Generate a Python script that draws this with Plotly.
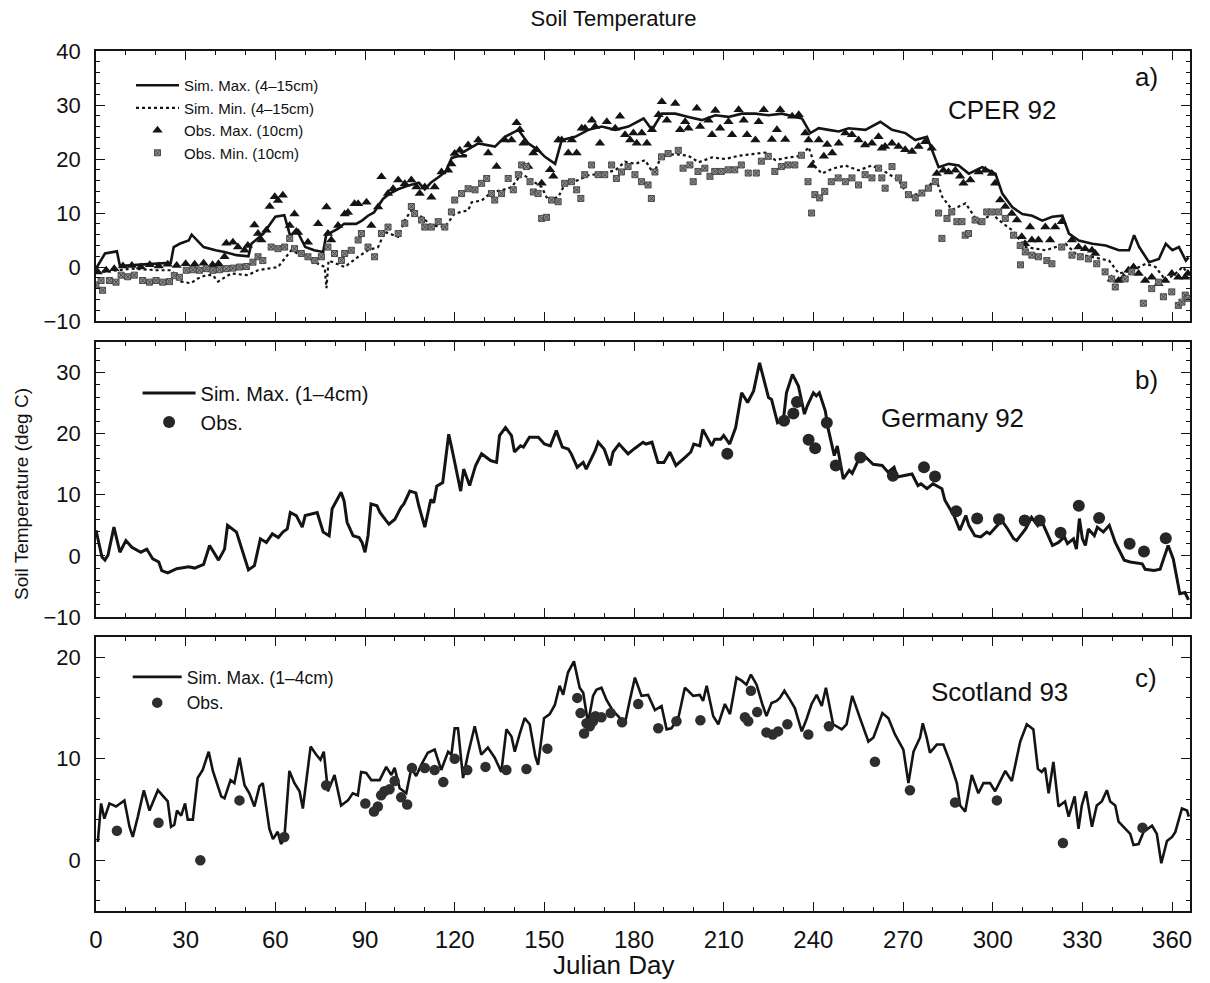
import plotly.graph_objects as go
from plotly.subplots import make_subplots

# ---------------- a) CPER 92 ----------------
a_simmax_day = [0, 3, 7, 8, 16, 25, 26, 28, 31, 32, 36, 40, 43, 47, 51, 52, 56, 60, 63, 65, 67, 70, 73, 76, 77,
                79, 81, 83, 87, 89, 91, 93, 96, 98, 101, 104, 108, 110, 112, 115, 117, 119, 121, 124,
                122.3, 127.9, 133.5, 136.8, 141.3, 144.6, 148, 150.2, 153.6, 155.8, 160.3, 164.7, 169.2, 173.7,
                178.1, 183.2, 186, 189.3, 193.8, 198.2, 202.7, 207.2, 211.6, 216.1, 220.6, 225, 229.5, 234,
                236.2, 239, 241.8, 245.1, 248.5, 251.8, 257.4, 262.4, 266.3, 270.8, 274.1, 278, 281.9, 285.3,
                288.6, 292, 296.5, 300.9, 303.2, 306.5, 309.9, 313.2, 316.6, 319.9, 323.3, 325.5, 328.8, 333.3,
                337.8, 342.2, 345.6, 347.3, 349, 352.3, 355.6, 357.9, 360.1, 362.3, 364.6, 365.5]
a_simmax_val = [-0.3, 2.5, 2.9, 0.2, 0.5, 0.8, 3.7, 4.3, 4.9, 6.0, 3.7, 3.1, 2.8, 2.2, 2.0, 4.3, 6.2, 9.3, 9.6, 5.7,
                7.0, 3.7, 3.1, 2.8, 5.9, 6.5, 7.1, 8.0, 8.0, 8.6, 9.5, 10.1, 12.6, 13.5, 14.4, 15.0, 15.6, 14.4,
                15.6, 16.8, 17.7, 20.2, 20.5, 20.5,
                21.1, 22.9, 22.3, 24.1, 25.4, 22.9, 21.6, 20.4, 19.1, 23.5, 24.1, 25.4, 26.0, 25.4,
                26.0, 27.5, 25.4, 28.4, 28.4, 27.8, 27.2, 28.1, 27.8, 28.4, 28.4, 28.1, 28.4, 27.8,
                27.5, 24.8, 25.7, 25.4, 25.1, 25.7, 25.4, 26.9, 25.4, 24.8, 23.5, 24.1, 18.5, 19.1,
                18.8, 17.3, 18.5, 17.3, 13.6, 11.1, 9.8, 9.5, 8.6, 9.3, 9.5, 6.2, 4.9, 4.3,
                4.0, 3.1, 3.1, 5.9, 3.7, 0.9, 1.5, 4.3, 3.1, 3.7, 1.2, 1.8]

a_simmin_day = [0, 2.8, 7.3, 11.7, 20.7, 25.1, 26.2, 28.5, 31.8, 34.1, 36.9, 39.1, 40.8, 45.2, 50.8, 54.2, 57.5,
                60.9, 65.3, 69.8, 76.5, 77.1, 77.8, 83.2, 87.7, 91, 94.4, 96.6, 101.1, 103.3, 105.5, 108.9,
                112.2, 116.7, 120, 124.5,
                125.7, 129, 132.4, 135.7, 139.1, 142.4, 145.8, 149.1, 151.3, 154.7, 156.9, 161.4, 164.7, 169.2,
                173.7, 177, 180.4, 183.7, 186.5, 189.3, 193.8, 198.2, 201.6, 206.1, 210.5, 215, 219.5, 223.9,
                227.3, 231.7, 236.2, 238.4, 240.7, 242.9, 246.3, 250.7, 255.1, 259.6, 264.1, 268.5, 271.9,
                275.2, 278.6, 280.8, 283.1, 286.4, 290.9, 295.3, 299.8, 302, 306.5, 311, 317.7, 324.4, 327.7,
                333.3, 338.9, 342.2, 346.7, 351.2, 354.5, 357.9, 361.2, 363.5, 365.5]
a_simmin_val = [-0.6, -0.9, -0.6, -0.3, -0.6, -0.6, -1.2, -2.7, -3.0, -2.1, -1.5, -1.5, -2.7, -1.2, -1.5, -0.6,
                -0.3, 0.0, 3.1, 1.9, 0.0, -3.9, 1.2, 0.0, 1.9, 3.1, 3.7, 6.5, 5.6, 8.7, 10.5, 9.3,
                7.7, 7.4, 9.9, 10.5,
                12.0, 12.3, 13.9, 14.2, 14.8, 17.3, 16.1, 14.8, 12.3, 13.0, 15.4, 16.1, 17.0, 17.3,
                17.9, 19.5, 19.1, 19.8, 17.3, 20.6, 20.9, 20.6, 19.4, 20.3, 20.0, 20.6, 20.9, 21.2,
                19.8, 20.3, 20.6, 22.2, 18.5, 17.3, 18.2, 18.8, 17.9, 18.8, 17.6, 16.1, 13.0,
                13.6, 14.8, 16.7, 13.0, 10.6, 11.8, 8.1, 9.9, 8.7, 6.8, 3.7, 3.1, 4.3, 2.5,
                1.9, 1.2, -1.2, -0.6, 0.6, 0.0, -2.5, -1.2, 0.0, -1.2]

a_obsmax_day = [0.6, 3.4, 6.1, 9, 12, 15, 18, 21, 24, 27, 30, 33, 36, 39, 41,
                43, 43.6, 45.8, 47.5, 49.7, 50.8, 53, 54.2, 55.3, 57, 58.1, 59.8, 60.9, 62.5, 64.8, 66.4,
                67.6, 70.9, 74.3, 77.1, 77.6, 78.7, 81, 83.2, 84.3, 86.5, 87.7, 90.5, 92.1, 94.4, 95.5, 97.7,
                99.4, 101.1, 103.3, 105.5, 107.2, 108.3, 110, 112.2, 113.3, 115.6, 117.8, 118.9, 120, 121.7,
                124.5, 127.9, 131.2, 134, 136.8, 139, 140.7, 141.8, 143, 144.6, 146.3, 147.4, 149.1, 151.9,
                153, 154.7, 155.8, 158, 159.2, 160.8, 162.5, 163.6, 165.9, 167, 168.6, 170.9, 173.7, 175.3,
                177, 178.7, 179.8, 180.9, 182.6, 184.3, 186, 188.2, 189.3, 191, 193.8, 195.4, 197.1, 198.2,
                201, 202.1, 204.9, 206.1, 207.2, 208.8, 211.6, 212.8, 215, 216.7, 217.8, 220.6, 221.7, 223.4,
                226.1, 227.8, 228.9, 230.6, 232.9, 235.1, 237.3, 238.4, 239.5, 241.8, 243.5, 244.6, 246.3,
                248.5, 250.7, 252.9, 255.1, 257.3, 259.6, 261.8, 262.9, 264, 266.3, 268.5, 270.7, 273, 275.2,
                277.4, 279.6, 281.3, 283.5, 285.2, 287.5, 289.1, 290.2, 292.5, 295.3, 297.5, 299.7, 300.8,
                302.5, 304.2, 306.4, 308.1, 309.7, 310.8, 312.5, 313.1, 315.3, 317.6, 319.2, 320.9, 323.1,
                326.5, 328.7, 330.9, 333.2, 334.3, 339.8, 342.1, 343.8, 345.4, 347.1, 348.8, 351, 353.2,
                355.5, 357.7, 359.9, 362.1, 364.4, 365.3]
a_obsmax_val = [-0.9, -0.6, -0.3, 0.2, 0.3, 0.0, 0.4, 0.2, 0.5, 0.3, 0.6, 0.5, 0.7, 0.4, 0.6,
                1.9, 4.4, 4.6, 3.7, 3.1, 4.0, 7.8, 6.2, 5.0, 6.8, 11.2, 13.0, 12.3, 13.3, 7.7, 9.8,
                6.4, 4.6, 8.0, 11.1, 6.2, 5.0, 7.7, 9.8, 10.1, 11.7, 11.7, 12.0, 7.7, 11.1, 16.7, 13.6,
                14.5, 16.1, 15.4, 16.1, 14.8, 13.6, 14.8, 12.9, 14.8, 17.6, 17.9, 19.1, 21.0, 21.6,
                22.6, 23.5, 21.1, 18.6, 23.5, 23.5, 26.7, 25.4, 22.9, 18.6, 21.1, 21.7, 15.5, 18.0,
                16.8, 23.5, 23.5, 21.1, 23.5, 21.1, 25.7, 25.7, 27.2, 26.0, 22.9, 26.9, 25.7, 27.9,
                24.5, 23.5, 24.8, 22.9, 24.8, 22.9, 25.4, 28.2, 30.6, 27.2, 30.3, 25.4, 26.9, 25.7,
                29.4, 26.0, 27.2, 24.5, 29.0, 25.7, 26.9, 24.5, 29.1, 27.2, 24.5, 23.5, 26.9, 29.1,
                23.6, 25.4, 29.1, 23.6, 27.9, 28.2, 24.8, 23.5, 18.8, 23.5, 20.5, 22.7, 21.1,
                22.9, 24.8, 24.5, 23.5, 22.6, 22.9, 24.1, 22.0, 22.3, 22.9, 22.3, 21.7, 21.4, 22.3,
                23.2, 22.0, 17.3, 17.9, 17.6, 17.9, 16.8, 15.5, 16.1, 17.6, 17.9, 17.3, 15.5,
                12.4, 11.2, 9.9, 8.7, 5.6, 4.3, 7.4, 5.0, 5.0, 7.4, 5.0, 7.4, 8.4,
                5.0, 3.7, 3.4, 3.1, 2.5, -2.2, -2.5, -1.9, -0.6, 0.0, -1.2, -2.5, -1.9,
                -3.1, -2.5, -1.2, -1.9, -1.9, -1.2]

a_obsmin_day = [0, 1.7, 2.2, 4.5, 6.7, 8.4, 10.6, 12.8, 15.6, 17.9, 20.1, 22.3, 24.6, 26.2, 27.9, 30.2, 32.4,
                34.6, 36.9, 39.1, 41.3, 43.6, 45.8, 48, 50.3, 52.5, 54.2, 55.8, 58.6, 60.9, 63.1, 64.8, 66.4,
                68.7, 70.9, 73.2, 75.4, 77.6, 79.8, 82.1, 83.2, 85.4, 87.7, 88.8, 91, 93.2, 95.5, 97.7, 101.1,
                103.3, 105.5, 106.6, 108.9, 110, 112.2, 114.5, 116.7, 118.9, 120, 122.3, 124.5,
                126.8, 129, 130.7, 132.3, 133.4, 135.7, 137.9, 139.6, 141.3, 142.4, 144, 145.2, 146.3, 147.9,
                149.1, 150.7, 152.4, 154.6, 156.8, 159.1, 160.8, 162.2, 163.5, 165.8, 168, 170.2, 172.5, 174.1,
                175.8, 178, 180.3, 182.5, 184.7, 185.8, 187, 189.2, 191.4, 194.8, 196.4, 198.7, 199.8, 201.4,
                203.7, 205.4, 207, 209.2, 211.5, 213.7, 215.9, 218.2, 220.9, 222.6, 224.9, 227.1, 229.3, 231.5,
                233.8, 236, 238.2, 239.4, 240.5, 242.1, 243.8, 246, 248.3, 250.7, 252.9, 255.1, 257.3, 259.6,
                261.8, 262.9, 264, 266.3, 268.5, 270.2, 271.8, 274.1, 276.3, 278.5, 280.8, 281.9, 283, 284.7,
                286.3, 288, 289.7, 290.8, 291.9, 294.1, 296.4, 298, 299.7, 302, 304.2, 307, 309.2, 309.3,
                310.9, 313.1, 315.3, 318.1, 319.8, 323.1, 326.5, 329.3, 332, 334.8, 337.6, 339.8, 341,
                344.3, 346.5, 350.4, 353.2, 355.5, 357.1, 359.9, 362.1, 363.3, 364.4, 365.3]
a_obsmin_val = [-3.3, -2.5, -4.3, -2.5, -2.8, -1.5, -1.8, -1.5, -2.5, -2.8, -2.5, -2.8, -2.7, -1.6, -1.9, -0.6,
                -0.5, -0.6, -0.3, -0.6, -0.5, -0.3, -0.2, 0.0, 0.1, 0.9, 1.9, 1.2, 3.7, 3.4, 3.7, 5.3, 3.4,
                2.5, 1.9, 1.2, 1.9, 3.7, 2.5, 1.2, 2.5, 3.1, 5.0, 6.2, 3.7, 1.9, 6.2, 7.4, 6.2,
                8.1, 11.2, 9.9, 8.7, 7.4, 7.4, 8.4, 7.4, 10.2, 12.4, 13.6, 14.5,
                14.3, 15.5, 16.4, 13.6, 12.4, 13.6, 16.4, 14.3, 17.1, 18.9, 18.6, 15.8, 13.9, 13.6,
                9.0, 9.2, 12.4, 12.1, 15.5, 15.8, 14.3, 12.7, 17.1, 18.9, 17.1, 17.1, 18.9, 16.4,
                17.6, 18.6, 17.1, 15.8, 15.2, 12.7, 17.6, 20.4, 21.0, 21.6, 18.3, 18.9, 15.8, 17.7,
                18.3, 16.8, 17.7, 17.7, 18.0, 18.0, 18.9, 17.4, 17.4, 19.6, 20.5, 17.7, 18.6, 18.9,
                18.9, 20.7, 15.8, 10.0, 13.4, 12.8, 14.0, 15.8, 16.5, 15.8, 16.5, 15.2, 17.1, 16.5,
                18.3, 16.5, 14.6, 18.6, 16.5, 15.2, 13.4, 12.8, 13.7, 14.6, 15.8, 10.0, 5.3, 9.0,
                10.2, 8.4, 8.4, 5.9, 6.2, 8.7, 8.4, 10.2, 10.2, 10.2, 9.0, 5.9, 4.0, 0.4,
                2.8, 2.2, 1.9, 1.2, 0.6, 3.7, 2.2, 1.9, 1.5, 0.6, -0.9, -2.2, -3.7,
                -2.2, -0.9, -6.7, -4.0, -2.8, -5.5, -4.6, -7.1, -6.5, -5.2, -5.8]

# ---------------- b) Germany 92 ----------------
b_sim_day = [0, 2, 3, 4, 6, 8, 10, 12, 15, 17, 19, 21, 22, 24, 27, 31, 33, 35, 36, 38, 41, 43, 44, 47, 50, 51, 53,
             55, 57, 59, 61, 62.5, 64, 65, 67, 69, 70, 73, 74, 76, 78, 79, 82, 83, 84, 86, 88, 89, 90, 91, 92,
             94, 95, 97, 98, 100, 102, 103, 105, 107, 108, 110, 112, 113, 114, 116, 118, 119, 122, 123, 125,
             127, 129, 132, 134, 135, 137, 139, 140, 142, 143, 145, 148, 150, 152, 154, 156, 158, 159, 161,
             163, 164, 167, 168, 170, 172, 173, 175, 178, 180, 183, 184, 186, 188, 190, 192, 194, 197, 199,
             200, 202, 203, 206, 207, 209, 210, 212, 214, 216, 218, 220, 222, 225, 226, 228, 230, 231, 233,
             235, 237, 238, 240, 241, 242, 244, 245, 247, 248, 250, 252, 253, 255, 257, 260, 263, 265, 267,
             268, 270, 273, 275, 276, 278, 280, 283, 284, 287, 289, 291, 292, 294, 296, 298, 299, 301, 303,
             305, 307, 308, 311, 313, 315, 316, 318, 320, 322, 324, 325, 327, 328, 329, 330, 331, 332, 334,
             335, 337, 339, 341, 344, 346, 350, 351, 354, 356, 357.5, 358.7, 360.4, 362.6, 364.3, 365.5]
b_sim_val = [4.2, -0.2, -0.7, 0.1, 4.7, 0.6, 2.5, 1.4, 0.6, 1.1, -0.5, -1.0, -2.4, -2.8, -2.1, -1.8, -2.0, -1.6,
             -1.4, 1.7, -0.7, 1.1, 5.0, 3.9, -1.0, -2.3, -1.6, 2.8, 2.2, 3.6, 3.0, 3.9, 4.4, 7.1, 6.6, 4.7,
             6.6, 6.9, 7.1, 3.9, 3.3, 7.7, 10.4, 9.0, 5.5, 3.3, 3.0, 2.2, 0.6, 3.3, 8.5, 8.2, 7.1, 5.8, 5.2,
             6.0, 7.9, 8.5, 10.6, 10.3, 8.2, 4.7, 9.2, 8.7, 11.4, 12.0, 19.9, 17.7, 10.6, 14.2, 11.5,
             14.8, 16.7, 15.6, 15.3, 19.7, 21.0, 19.7, 17.0, 18.0, 17.8, 19.4, 19.4, 18.3, 18.0, 20.5,
             17.8, 17.5, 16.7, 14.5, 15.3, 14.2, 17.2, 18.6, 17.5, 14.8, 17.0, 18.3, 16.7, 17.5, 18.6,
             18.3, 18.6, 15.3, 15.3, 17.0, 14.8, 16.1, 17.0, 18.3, 18.0, 20.7, 18.0, 19.1, 19.1, 19.7,
             18.3, 21.0, 26.7, 25.1, 27.0, 31.6, 25.9, 25.6, 21.8, 22.4, 26.7, 29.7, 27.8, 23.2, 24.6,
             26.7, 26.2, 26.7, 23.7, 20.7, 16.4, 18.0, 12.6, 14.0, 13.5, 15.6, 16.4, 15.0, 14.8, 13.7,
             14.5, 12.9, 13.1, 13.4, 11.5, 11.8, 11.0, 11.8, 11.0, 9.1, 6.6, 4.2, 6.6, 5.0, 3.3, 3.1,
             3.9, 3.6, 4.7, 5.8, 4.4, 2.8, 2.5, 4.4, 6.3, 5.0, 6.1, 3.9, 1.7, 2.2, 3.1, 2.0, 2.8, 1.1,
             6.1, 2.8, 1.7, 4.4, 3.3, 4.7, 3.9, 5.0, 2.2, -0.7, -1.0, -1.3, -2.2, -2.4, -2.2, 0.0, 1.7,
             -0.5, -6.2, -6.0, -7.2]

b_obs_day = [211.2, 230.2, 233.3, 234.5, 238.4, 240.6, 244.5, 247.5, 255.7, 266.6, 277, 280.7, 287.8, 294.8,
             302.1, 310.7, 315.7, 322.7, 328.8, 335.6, 345.8, 350.6, 357.9]
b_obs_val = [16.7, 22.1, 23.3, 25.2, 19.0, 17.6, 21.8, 14.8, 16.1, 13.1, 14.5, 13.0, 7.3, 6.1,
             6.0, 5.8, 5.8, 3.8, 8.2, 6.2, 2.0, 0.7, 2.9]

# ---------------- c) Scotland 93 ----------------
c_sim_day = [0.6, 1.7, 2.8, 4.5, 6.7, 9.5, 11.2, 12.3, 14, 16, 17.9, 20.7, 24, 25.1, 26.2, 27.1, 28.5, 29.8,
             30.7, 32.4, 34, 35.7, 37.7, 39.1, 41.9, 43, 45, 46.3, 48, 49.7, 51.3, 53, 54.7, 55.8, 58, 59.2,
             60.8, 61.9, 63, 64.7, 66.4, 68.1, 69.2, 71.8, 73.7, 75.1, 76.2, 77.6, 79.8, 82, 84.3, 85.9, 87.6,
             88.7, 90.4, 92.1, 94.9, 97.1, 98.8, 99.9, 101.6, 103.8, 105.5, 107.1, 108.8, 111, 113.3, 115.5,
             117.8, 118.9, 120, 121.1, 122.8, 124.4, 126.7, 128.9, 131.1, 133.4, 135.6, 137.3, 139, 140.1,
             141.7, 143.4, 145.1, 147, 147.9, 149.9, 151.8, 153.5, 155.1, 156.3, 157.9, 159.9, 161.8, 163,
             164.6, 166.3, 167.4, 169.1, 170.8, 173, 174.7, 176.9, 178.6, 180.3, 182.5, 184.7, 187, 189.2,
             190.9, 192.5, 194.8, 197, 198.1, 199.8, 202, 203.1, 204.3, 206.5, 208.2, 210.4, 212.1, 214.3,
             216, 217.6, 219.1, 221, 222.9, 224.3, 226, 227.7, 228.8, 230.3, 232.2, 233.8, 236.1, 237.7,
             239.4, 241.1, 242.8, 244.2, 246.6, 249.5, 251.1, 253, 255.6, 258.4, 260.1, 263.1, 265.1, 267.3,
             270.1, 271.8, 273.5, 275.7, 276.6, 277.9, 279, 281.3, 283.5, 285.7, 288, 289.1, 290.8, 293,
             295.2, 296.9, 299.1, 300.8, 302.5, 304.2, 306.4, 309.2, 311.4, 313.6, 315.1, 316.4, 317.5,
             318.7, 320.3, 322, 324.2, 325.4, 327.4, 328.7, 329.8, 331.2, 333.2, 334.8, 336.5, 338.2, 339.3,
             341, 342.1, 344.3, 346, 347.1, 348.8, 350.5, 353.3, 354.9, 356.4, 358.3, 360, 361.1, 363.3,
             365, 365.6]
c_sim_val = [1.8, 5.6, 4.1, 5.6, 5.3, 5.9, 3.3, 2.3, 4.3, 6.9, 4.9, 6.9, 5.8, 3.3, 3.5, 4.9, 4.4, 5.6,
             4.0, 4.0, 8.1, 8.9, 10.7, 8.8, 6.3, 6.1, 7.9, 7.6, 10.1, 7.4, 6.6, 5.3, 7.3, 7.6, 3.1, 2.1,
             2.8, 1.6, 2.1, 8.8, 7.6, 6.8, 5.1, 11.2, 10.4, 9.9, 10.7, 6.8, 8.4, 5.4, 5.9, 6.6, 6.4,
             8.7, 8.6, 7.9, 7.9, 9.2, 8.4, 9.1, 7.1, 6.6, 9.1, 8.3, 9.4, 10.6, 10.9, 8.9,
             10.7, 10.4, 13.0, 13.0, 8.1, 10.4, 13.2, 10.4, 11.1, 10.1, 8.7, 12.9, 12.2, 10.7,
             12.4, 14.0, 13.4, 10.2, 9.4, 14.0, 14.4, 15.3, 17.2, 16.3, 18.5, 19.6, 17.0, 16.5,
             13.5, 16.2, 16.8, 17.0, 15.8, 14.7, 14.2, 13.4, 15.8, 18.0, 16.2, 16.3, 14.8, 15.2,
             12.9, 13.0, 14.0, 17.0, 16.7, 16.2, 16.3, 15.7, 17.2, 14.2, 13.4, 15.4, 14.4, 18.0,
             17.7, 17.3, 18.3, 17.3, 15.4, 14.2, 15.5, 15.7, 16.0, 16.7, 15.8, 15.0, 12.7, 13.9,
             15.4, 16.3, 15.2, 17.0, 13.4, 12.9, 13.4, 16.2, 14.0, 11.7, 12.1, 14.5, 14.0, 12.4,
             10.9, 7.6, 10.7, 12.1, 13.5, 12.1, 10.6, 11.4, 11.4, 9.7, 7.6, 5.4, 4.8, 8.4,
             6.6, 7.6, 7.6, 6.8, 7.8, 8.8, 7.8, 11.7, 13.4, 12.9, 9.0, 8.7, 9.1,
             6.6, 9.7, 5.3, 5.8, 4.3, 6.3, 3.1, 5.4, 6.8, 3.3, 5.4, 5.8, 6.9, 5.8,
             5.4, 3.8, 3.1, 2.6, 1.5, 1.6, 2.8, 3.4, 2.6, -0.3, 1.9, 2.3, 2.8, 5.1,
             4.9, 4.3]

c_obs_day = [7.0, 20.9, 34.9, 48, 63, 77, 90.1, 93, 94.3, 95.4, 96.5, 98.2, 99.9, 102.1, 104.1, 105.7, 110,
             113.3, 116.2, 120, 124.2, 130.3, 137.3, 144, 151, 161, 162.1, 163.3, 164.1, 165.2, 166.3, 167.1,
             169.1, 172.2, 176, 181.4, 188.1, 194.2, 202.2, 217.1, 218.2, 219.1, 221.2, 224.3, 226.4, 228.2,
             231.3, 238.3, 245.2, 260.6, 272.3, 287.4, 301.4, 323.5, 350.1]
c_obs_val = [2.9, 3.7, 0.0, 5.9, 2.3, 7.4, 5.6, 4.8, 5.3, 6.4, 6.8, 7.0, 7.8, 6.2, 5.5, 9.1, 9.1,
             8.9, 7.7, 10.0, 8.9, 9.2, 8.9, 9.0, 11.0, 16.0, 14.5, 12.5, 13.5, 13.2, 13.7, 14.2,
             14.1, 14.5, 13.6, 15.4, 13.0, 13.7, 13.8, 14.1, 13.7, 16.7, 14.6, 12.6, 12.4, 12.7,
             13.4, 12.4, 13.2, 9.7, 6.9, 5.7, 5.9, 1.7, 3.2]

day_ticks = [0, 30, 60, 90, 120, 150, 180, 210, 240, 270, 300, 330, 360]

FONT = "Liberation Sans, Arial, Helvetica, sans-serif"
INK = "#141414"

fig = make_subplots(rows=3, cols=1, shared_xaxes=True)

# panel a
fig.add_trace(go.Scatter(x=a_simmax_day, y=a_simmax_val, mode="lines", name="Sim. Max. (4\u201315cm)",
                         line=dict(color=INK, width=2.6), legend="legend"), row=1, col=1)
fig.add_trace(go.Scatter(x=a_simmin_day, y=a_simmin_val, mode="lines", name="Sim. Min. (4\u201315cm)",
                         line=dict(color=INK, width=2.2, dash="dot"), legend="legend"), row=1, col=1)
fig.add_trace(go.Scatter(x=a_obsmax_day, y=a_obsmax_val, mode="markers", name="Obs. Max. (10cm)",
                         marker=dict(symbol="triangle-up", size=9, color=INK, line=dict(width=0)),
                         legend="legend"), row=1, col=1)
fig.add_trace(go.Scatter(x=a_obsmin_day, y=a_obsmin_val, mode="markers", name="Obs. Min. (10cm)",
                         marker=dict(symbol="square-x", size=6, color="#8c8c8c",
                                     line=dict(width=1, color="#4a4a4a")),
                         legend="legend"), row=1, col=1)

# panel b
fig.add_trace(go.Scatter(x=b_sim_day, y=b_sim_val, mode="lines", name="Sim. Max. (1\u20134cm)",
                         line=dict(color=INK, width=3), legend="legend2"), row=2, col=1)
fig.add_trace(go.Scatter(x=b_obs_day, y=b_obs_val, mode="markers", name="Obs.",
                         marker=dict(symbol="circle", size=12, color="#262626", line=dict(width=0)),
                         legend="legend2"), row=2, col=1)

# panel c
fig.add_trace(go.Scatter(x=c_sim_day, y=c_sim_val, mode="lines", name="Sim. Max. (1\u20134cm)",
                         line=dict(color=INK, width=2.6), legend="legend3"), row=3, col=1)
fig.add_trace(go.Scatter(x=c_obs_day, y=c_obs_val, mode="markers", name="Obs.",
                         marker=dict(symbol="circle", size=10.5, color="#2e2e2e", line=dict(width=0)),
                         legend="legend3"), row=3, col=1)

xcommon = dict(range=[0, 366], tickmode="array", tickvals=day_ticks, ticks="inside", ticklen=9,
               tickwidth=1.3, tickcolor=INK, showline=True, linecolor=INK, linewidth=1.5, mirror="ticks",
               showgrid=False, zeroline=False,
               minor=dict(dtick=10, tick0=0, ticks="inside", ticklen=4, tickwidth=1, tickcolor=INK))
ycommon = dict(ticks="inside", ticklen=9, tickwidth=1.3, tickcolor=INK, showline=True, linecolor=INK,
               linewidth=1.5, mirror="ticks", showgrid=False, zeroline=False,
               tickfont=dict(family=FONT, size=22, color="#111"), ticklabelstandoff=9,
               minor=dict(dtick=2, ticks="inside", ticklen=4, tickwidth=1, tickcolor=INK))

fig.update_xaxes(**xcommon)
fig.update_xaxes(showticklabels=False, row=1, col=1)
fig.update_xaxes(showticklabels=False, row=2, col=1)
fig.update_xaxes(tickfont=dict(family=FONT, size=24, color="#111"), ticklabelstandoff=6, row=3, col=1)

fig.update_yaxes(**ycommon)
fig.update_yaxes(range=[-10, 40], tickvals=[-10, 0, 10, 20, 30, 40], domain=[0.686, 1.0], row=1, col=1)
fig.update_yaxes(range=[-10, 35], tickvals=[-10, 0, 10, 20, 30], domain=[0.3419, 0.6616], row=2, col=1)
fig.update_yaxes(range=[-5, 22], tickvals=[0, 10, 20], domain=[0.0, 0.3186], row=3, col=1)

panel_text = [
    dict(text="CPER 92", xref="x domain", yref="y domain", x=0.8286, y=0.781),
    dict(text="a)", xref="x domain", yref="y domain", x=0.960, y=0.904),
    dict(text="Germany 92", xref="x2 domain", yref="y2 domain", x=0.783, y=0.724),
    dict(text="b)", xref="x2 domain", yref="y2 domain", x=0.960, y=0.862),
    dict(text="Scotland 93", xref="x3 domain", yref="y3 domain", x=0.826, y=0.800),
    dict(text="c)", xref="x3 domain", yref="y3 domain", x=0.960, y=0.852),
]
annotations = []
for p in panel_text:
    annotations.append(dict(p, showarrow=False, xanchor="center", yanchor="middle",
                            font=dict(family=FONT, size=26, color="#111")))
annotations.append(dict(text="Soil Temperature (deg C)", xref="paper", yref="paper", x=-0.0676, y=0.485,
                        textangle=-90, showarrow=False, xanchor="center", yanchor="middle",
                        font=dict(family=FONT, size=19, color="#111")))
annotations.append(dict(text="Julian Day", xref="paper", yref="paper", x=0.473, y=-0.0628,
                        showarrow=False, xanchor="center", yanchor="middle",
                        font=dict(family=FONT, size=26, color="#111")))

fig.update_layout(
    width=1210, height=983,
    margin=dict(l=96, r=20, t=51, b=72),
    paper_bgcolor="white", plot_bgcolor="white",
    title=dict(text="Soil Temperature", x=0.507, xanchor="center", y=1 - 18 / 983, yanchor="middle",
               font=dict(family=FONT, size=22, color="#111")),
    annotations=annotations,
    legend=dict(x=0.032, y=0.979, xanchor="left", yanchor="top", bgcolor="rgba(0,0,0,0)",
                font=dict(family=FONT, size=15, color="#111"), itemwidth=43, tracegroupgap=0),
    legend2=dict(x=0.038, y=0.625, xanchor="left", yanchor="top", bgcolor="rgba(0,0,0,0)",
                 font=dict(family=FONT, size=20, color="#111"), itemwidth=53),
    legend3=dict(x=0.029, y=0.293, xanchor="left", yanchor="top", bgcolor="rgba(0,0,0,0)",
                 font=dict(family=FONT, size=17.5, color="#111"), itemwidth=49),
    showlegend=True,
)

fig.write_html("out.html")
